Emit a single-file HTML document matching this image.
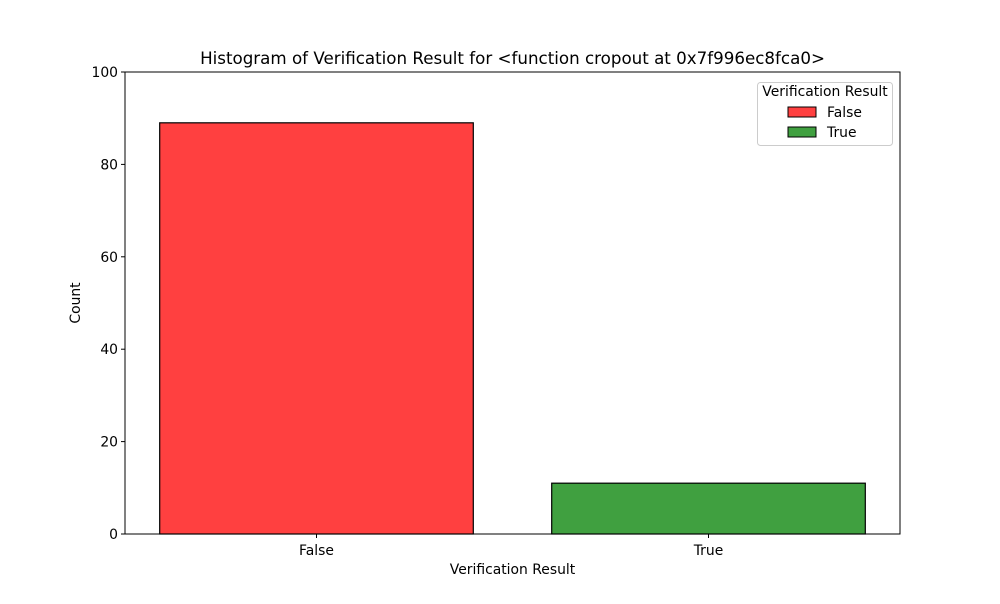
<!DOCTYPE html>
<html><head><meta charset="utf-8"><style>
body{margin:0;background:#fff;font-family:"DejaVu Sans","Liberation Sans",sans-serif}
svg text{font-family:"DejaVu Sans","Liberation Sans",sans-serif}
</style></head><body>
<svg id="chart" width="1000" height="600" xmlns="http://www.w3.org/2000/svg">
<rect width="1000" height="600" fill="#fff"/>
<g id="plot"></g>
</svg>
<script>
const categories = ["False", "True"];
const counts = [89, 11];
const yTicks = [0, 20, 40, 60, 80, 100];
const colors = ["#ff4040", "#40a040"];
const L=125,R=900,T=72,B=534;
const FS=13.9;
const xmin=-0.4885,xmax=1.4885,ymin=0,ymax=100;
const xs=v=>L+(v-xmin)/(xmax-xmin)*(R-L);
const ys=v=>B-(v-ymin)/(ymax-ymin)*(B-T);
const NS="http://www.w3.org/2000/svg";
const g=document.getElementById('plot');
function mk(t,a,txt){const e=document.createElementNS(NS,t);for(const k in a)e.setAttribute(k,a[k]);if(txt!==undefined)e.textContent=txt;g.appendChild(e);return e;}
categories.forEach((c,i)=>{
 const b=mk('rect',{x:xs(i-0.4),y:ys(counts[i]),width:xs(i+0.4)-xs(i-0.4),height:ys(0)-ys(counts[i]),fill:colors[i],stroke:'#000','stroke-width':1.2});
 
 
 const tk=mk('line',{x1:xs(i),x2:xs(i),y1:B,y2:B+4,stroke:'#000'});
 
 
 const tl=mk('text',{x:xs(i),y:B+21,'text-anchor':'middle','font-size':FS},c);
 
 
});
yTicks.forEach(v=>{
 const tk=mk('line',{x1:L-4,x2:L,y1:ys(v),y2:ys(v),stroke:'#000'});
 
 
 const tl=mk('text',{x:L-7,y:ys(v)+5,'text-anchor':'end','font-size':FS},v);
 
 
});
const ax=mk('rect',{x:L,y:T,width:R-L,height:B-T,fill:'none',stroke:'#000','stroke-width':1});


const t=mk('text',{x:(L+R)/2,y:64,'text-anchor':'middle','font-size':16.7},'Histogram of Verification Result for <function cropout at 0x7f996ec8fca0>');


const xl=mk('text',{x:(L+R)/2,y:574,'text-anchor':'middle','font-size':FS},'Verification Result');


const yl=mk('text',{x:0,y:0,'text-anchor':'middle','font-size':FS,transform:'translate(80,303) rotate(-90)'},'Count');


const lb=mk('rect',{x:757.5,y:82.5,width:135,height:63,rx:3,fill:'#fff',stroke:'#ccc'});


const lt=mk('text',{x:825,y:96,'text-anchor':'middle','font-size':FS},'Verification Result');


categories.forEach((c,i)=>{
 const y=107+i*20;
 const s=mk('rect',{x:788,y:y,width:28,height:10,fill:colors[i],stroke:'#000'});
 
 
 const tx=mk('text',{x:827,y:y+10,'font-size':FS},c);
 
 
});
</script>
</body></html>
